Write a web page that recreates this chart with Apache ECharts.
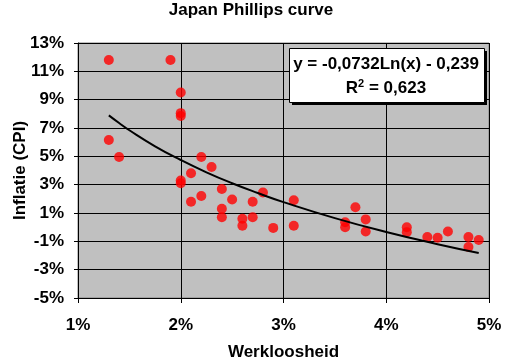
<!DOCTYPE html>
<html><head><meta charset="utf-8">
<script src="https://cdn.jsdelivr.net/npm/echarts@6/dist/echarts.min.js"></script>
<style>html,body{margin:0;padding:0;background:#fff}#c{width:508px;height:363px}</style>
</head><body><div id="c"></div>
<script>
// Unemployment (%) and inflation (%)
var unemployment = [1.3, 1.9, 2.0, 2.0, 2.0, 1.3, 1.4, 2.2, 2.3, 2.1, 2.0, 2.0, 2.4, 2.1, 2.2, 2.5, 2.8, 2.7, 2.4, 2.4, 2.6, 2.6, 2.7, 2.9, 3.1, 3.1, 3.6, 3.6, 3.7, 3.8, 3.8, 4.2, 4.2, 4.4, 4.5, 4.6, 4.8, 4.8, 4.9];
var inflation    = [11.8, 11.8, 9.5, 8.05, 7.85, 6.15, 4.95, 4.95, 4.25, 3.8, 3.3, 3.1, 2.7, 1.8, 2.2, 1.95, 2.45, 1.8, 1.3, 0.7, 0.6, 0.1, 0.7, -0.05, 1.9, 0.1, 0.35, 0.0, 1.4, 0.55, -0.3, 0.0, -0.35, -0.7, -0.75, -0.3, -0.7, -1.4, -0.9];
// Logarithmic trend line as drawn in the picture
var trendX = [1.3, 1.4, 1.5, 1.75, 2.0, 2.25, 2.5, 2.75, 3.0, 3.5, 4.0, 4.5, 4.9];
var trendY = [7.89, 7.35, 6.84, 5.71, 4.74, 3.87, 3.10, 2.41, 1.77, 0.64, -0.34, -1.20, -1.82];
var yTicks = [-5, -3, -1, 1, 3, 5, 7, 9, 11, 13];
var xTicks = [1, 2, 3, 4, 5];
var titleText = 'Japan Phillips curve';
var xName = 'Werkloosheid';
var yName = 'Inflatie (CPI)';
var eqLine1 = 'y = -0,0732Ln(x) - 0,239';
var eqR2 = '0,623';

var Y0 = yTicks[0]; // offset so the axis starts at 0 (multiple of interval)
function pts(xs, ys){ return xs.map(function(x,i){ return [x, ys[i] - Y0]; }); }

var font = '"Liberation Sans", Arial, sans-serif';
var chart = echarts.init(document.getElementById('c'), null, {renderer:'canvas'});
chart.setOption({
  animation:false,
  backgroundColor:'#fff',
  title:{text:titleText, left:251, textAlign:'center', top:2, padding:0,
    textStyle:{fontFamily:font, fontWeight:'bold', fontSize:17, color:'#000'}},
  grid:{left:78, right:19, top:43, bottom:65, containLabel:false, outerBoundsMode:'none',
    show:true, backgroundColor:'#C0C0C0', borderColor:'#808080', borderWidth:1},
  xAxis:{type:'value', min:xTicks[0], max:xTicks[xTicks.length-1], interval:1,
    name:xName, nameLocation:'middle', nameGap:46, nameMoveOverlap:false,
    nameTextStyle:{fontFamily:font, fontWeight:'bold', fontSize:17, color:'#000'},
    axisLine:{show:true, lineStyle:{color:'#000', width:1}},
    axisTick:{show:true, length:5, lineStyle:{color:'#000'}},
    axisLabel:{fontFamily:font, fontWeight:'bold', fontSize:17, color:'#000', margin:19,
      formatter:function(v){return v+'%';}},
    splitLine:{show:true, lineStyle:{color:'#000', width:1}}},
  yAxis:{type:'value', min:0, max:yTicks[yTicks.length-1]-Y0, interval:2,
    name:yName, nameLocation:'middle', nameGap:49, nameRotate:90, nameMoveOverlap:false,
    nameTextStyle:{fontFamily:font, fontWeight:'bold', fontSize:17, color:'#000'},
    axisLine:{show:true, lineStyle:{color:'#000', width:1}},
    axisTick:{show:true, length:4, lineStyle:{color:'#000'}},
    axisLabel:{fontFamily:font, fontWeight:'bold', fontSize:17, color:'#000', margin:14,
      formatter:function(v){return (v+Y0)+'%';}},
    splitLine:{show:true, lineStyle:{color:'#000', width:1}}},
  series:[
    {type:'scatter', data:pts(unemployment, inflation), symbol:'circle', symbolSize:10,
      itemStyle:{color:'#FF0000'}, z:3},
    {type:'line', data:pts(trendX, trendY), smooth:true, showSymbol:false, symbol:'none',
      lineStyle:{color:'#000', width:2}, z:4}
  ],
  graphic:[
    {type:'rect', left:292, top:51, shape:{width:195, height:54}, style:{fill:'#000'}, z:10},
    {type:'rect', left:289, top:48, shape:{width:195, height:54}, style:{fill:'#fff', stroke:'#000', lineWidth:1}, z:11},
    {type:'text', x:386, y:64, z:12, style:{text:eqLine1, align:'center', verticalAlign:'middle',
      font:'bold 17px "Liberation Sans", Arial, sans-serif', fill:'#000'}},
    {type:'text', x:386, y:88, z:12, style:{text:'{a|R}{s|2}{a| = '+eqR2+'}', align:'center', verticalAlign:'middle',
      rich:{a:{fontFamily:font, fontWeight:'bold', fontSize:17, color:'#000'},
            s:{fontFamily:font, fontWeight:'bold', fontSize:11, color:'#000', verticalAlign:'top', padding:[0,0,8,0]}}}}
  ]
});
</script></body></html>
